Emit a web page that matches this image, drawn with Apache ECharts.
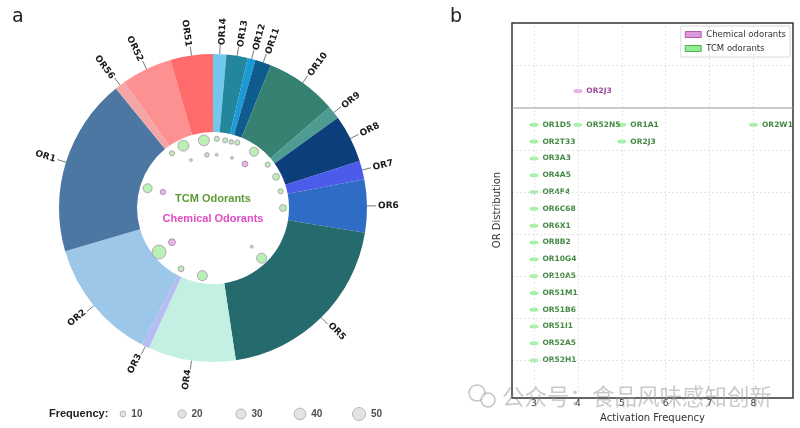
<!DOCTYPE html>
<html>
<head>
<meta charset="utf-8">
<script src="https://cdn.jsdelivr.net/npm/echarts@6/dist/echarts.min.js"></script>
<style>
html, body { margin: 0; padding: 0; background: #fff; }
#main { width: 800px; height: 428px; }
</style>
</head>
<body>
<div id="main"></div>
<script>
// panel a: ring slices, clockwise from 12 o'clock
const orNames = ['OR14', 'OR13', 'OR12', 'OR11', 'OR10', 'OR9', 'OR8', 'OR7', 'OR6', 'OR5', 'OR4', 'OR3', 'OR2', 'OR1', 'OR56', 'OR52', 'OR51'];
const orCounts = [5, 8, 3, 6, 27, 5, 18, 7, 20, 72, 33, 3, 46, 67, 4, 19, 16];
const orColors = ['#73c6ec', '#24869c', '#1b9ad6', '#0e5c8e', '#378173', '#4d9b91', '#0d3e7c', '#4b5ceb', '#2e6cc6',
	'#256b6d', '#c3f0e3', '#b5bdf2', '#9cc7e8', '#4c77a3', '#f4a6a6', '#fd9090', '#ff6b6b'];

// bubbles inside the ring: [x, y, frequency], ring centre = 0, inner radius = 1
const tcmBubbles = [
	[-0.39, 0.82, 29], [-0.12, 0.89, 29], [0.05, 0.91, 5], [0.16, 0.89, 5], [0.24, 0.87, 3],
	[0.32, 0.86, 5], [-0.54, 0.72, 5], [-0.29, 0.63, 1], [-0.08, 0.70, 3], [0.05, 0.70, 1],
	[0.25, 0.66, 1], [0.54, 0.74, 19], [0.72, 0.57, 5], [0.83, 0.41, 10], [-0.86, 0.26, 19],
	[0.89, 0.22, 5], [0.92, 0.0, 10], [-0.71, -0.58, 49], [0.51, -0.51, 1], [0.64, -0.66, 24],
	[-0.42, -0.80, 7], [-0.14, -0.89, 24]
];
const chemBubbles = [[0.42, 0.58, 7], [-0.66, 0.21, 6], [-0.54, -0.45, 10]];
const freqLegend = ['10', '20', '30', '40', '50'];

// panel b
const tcmRows = ['OR1D5', 'OR2T33', 'OR3A3', 'OR4A5', 'OR4F4', 'OR6C68', 'OR6X1', 'OR8B2', 'OR10G4',
	'OR10A5', 'OR51M1', 'OR51B6', 'OR51I1', 'OR52A5', 'OR52H1'];
const tcmRowFreq = [3, 3, 3, 3, 3, 3, 3, 3, 3, 3, 3, 3, 3, 3, 3];
// extra receptors sharing a row: [frequency, row index, name]
const tcmExtra = [[4, 0, 'OR52N5'], [5, 0, 'OR1A1'], [8, 0, 'OR2W1'], [5, 1, 'OR2J3']];
const chemPoints = [[4, 0, 'OR2J3']];
const xTicks = [3, 4, 5, 6, 7, 8];
const rowGrid = [0, 2.5, 5, 7.5, 10, 12.5];

const bubbleSize = f => 1.85 * Math.sqrt(f);

let myChart = echarts.init(document.getElementById('main'));

const nRows = tcmRows.length;
let tcmData = tcmRows.map((n, i) => [tcmRowFreq[i], nRows - 1 - i, n]);
tcmExtra.forEach(e => tcmData.push([e[0], nRows - 1 - e[1], e[2]]));

const gridLine = { type: [2, 2], color: '#dedede', width: 0.8 };

let option = {
	animation: false,
	backgroundColor: '#fff',
	textStyle: { fontFamily: 'DejaVu Sans' },
	title: [
		{ text: 'a', left: 7, top: 3, textStyle: { fontSize: 19, fontWeight: 'normal', color: '#222' } },
		{ text: 'b', left: 445, top: 3, textStyle: { fontSize: 19, fontWeight: 'normal', color: '#222' } }
	],
	legend: {
		right: 10, top: 26, orient: 'vertical', icon: 'rect',
		itemWidth: 16, itemHeight: 6, itemGap: 5,
		backgroundColor: '#fff', borderColor: '#d0d0d0', borderWidth: 0.8, padding: [4, 4],
		textStyle: { fontSize: 8.5, color: '#333' },
		data: [
			{ name: 'Chemical odorants', itemStyle: { color: '#dd99dd', borderColor: '#a040a0', borderWidth: 0.8, opacity: 1 } },
			{ name: 'TCM odorants', itemStyle: { color: '#90ee90', borderColor: '#3a9a3a', borderWidth: 0.8, opacity: 1 } }
		]
	},
	grid: [
		{ left: 137, top: 132, width: 152, height: 152 },
		{ left: 93.5, top: 404, width: 295, height: 20 },
		{ left: 512, top: 23, width: 281, height: 85 },
		{ left: 512, top: 108, width: 281, height: 290 }
	],
	xAxis: [
		{ gridIndex: 0, type: 'value', min: -1, max: 1, show: false },
		{ gridIndex: 1, type: 'category', data: freqLegend, show: false },
		{ gridIndex: 2, type: 'value', min: 2.5, max: 8.9, show: false },
		{
			gridIndex: 3, type: 'value', min: 2.5, max: 8.9, interval: 0.5,
			axisLine: { show: false }, axisTick: { show: false }, splitLine: { show: false },
			axisLabel: {
				fontSize: 9, color: '#333', margin: 7,
				formatter: v => (xTicks.indexOf(v) >= 0 ? String(v) : '')
			},
			name: 'Activation Frequency', nameLocation: 'middle', nameGap: 18,
			nameTextStyle: { fontSize: 10, color: '#333' }
		}
	],
	yAxis: [
		{ gridIndex: 0, type: 'value', min: -1, max: 1, show: false },
		{ gridIndex: 1, type: 'value', min: 0, max: 1, show: false },
		{ gridIndex: 2, type: 'value', min: -0.65, max: 2.6, show: false },
		{ gridIndex: 3, type: 'value', min: -1.9, max: 15, show: false }
	],
	graphic: [
		{ type: 'rect', shape: { x: 512, y: 23, width: 281, height: 375 }, style: { fill: null, stroke: '#333', lineWidth: 1.5 }, z: 10 },
		{ type: 'line', shape: { x1: 512, y1: 108, x2: 793, y2: 108 }, style: { stroke: '#999', lineWidth: 1 }, z: 10 },
		{ type: 'text', x: 497, y: 210, rotation: Math.PI / 2, style: { text: 'OR Distribution', fontSize: 10, fill: '#333', align: 'center', verticalAlign: 'middle', fontFamily: 'DejaVu Sans' } },
		{ type: 'text', x: 213, y: 199, style: { text: 'TCM Odorants', fontSize: 11, fontWeight: 'bold', fill: '#5b9a32', align: 'center', verticalAlign: 'middle', fontFamily: 'Liberation Sans' }, z: 20 },
		{ type: 'text', x: 213, y: 219, style: { text: 'Chemical Odorants', fontSize: 11, fontWeight: 'bold', fill: '#e04cc4', align: 'center', verticalAlign: 'middle', fontFamily: 'Liberation Sans' }, z: 20 },
		{ type: 'text', x: 49, y: 414, style: { text: 'Frequency:', fontSize: 11, fontWeight: 'bold', fill: '#222', verticalAlign: 'middle', fontFamily: 'Liberation Sans' } },
		// watermark
		{ type: 'circle', shape: { cx: 477, cy: 393, r: 8 }, style: { fill: null, stroke: 'rgba(150,150,150,0.55)', lineWidth: 1.5 }, z: 30 },
		{ type: 'circle', shape: { cx: 488, cy: 400, r: 7 }, style: { fill: 'rgba(255,255,255,0.6)', stroke: 'rgba(150,150,150,0.55)', lineWidth: 1.5 }, z: 30 },
		{ type: 'text', x: 502, y: 396, style: { text: '公众号：食品风味感知创新', fontSize: 22.5, fill: 'rgba(150,150,150,0.5)', verticalAlign: 'middle', fontFamily: 'Noto Sans CJK SC' }, z: 30 }
	],
	series: [
		{
			type: 'pie',
			center: [213, 208],
			radius: [76, 154],
			startAngle: 90,
			clockwise: true,
			avoidLabelOverlap: false,
			data: orNames.map((n, i) => ({ name: n, value: orCounts[i], itemStyle: { color: orColors[i] } })),
			label: {
				show: true, position: 'outside', rotate: 'radial',
				fontSize: 9, fontWeight: 'bold', color: '#1a1a1a', distanceToLabelLine: 2
			},
			labelLine: { show: true, length: 9, length2: 0, smooth: false, lineStyle: { color: '#555', width: 0.8 } },
			emphasis: { disabled: true }
		},
		{
			name: 'tcmBubble', type: 'scatter', xAxisIndex: 0, yAxisIndex: 0,
			data: tcmBubbles,
			symbolSize: d => bubbleSize(d[2]) + 1,
			itemStyle: { color: '#a8eca0', borderColor: '#b08fb0', borderWidth: 1 },
			z: 5, silent: true
		},
		{
			name: 'chemBubble', type: 'scatter', xAxisIndex: 0, yAxisIndex: 0,
			data: chemBubbles,
			symbolSize: d => bubbleSize(d[2]) + 1,
			itemStyle: { color: '#e0a4e0', borderColor: '#a088a0', borderWidth: 1 },
			z: 5, silent: true
		},
		{
			name: 'freqLegend', type: 'scatter', xAxisIndex: 1, yAxisIndex: 1,
			data: freqLegend.map(f => [f, 0.5]),
			symbolSize: d => bubbleSize(+d[0]),
			itemStyle: { color: '#dcdcdc', borderColor: '#9a9a9a', borderWidth: 0.8 },
			label: {
				show: true, position: 'right', distance: 5,
				formatter: p => p.data[0], fontSize: 10, fontWeight: 'bold', color: '#222', fontFamily: 'Liberation Sans'
			},
			silent: true
		},
		{
			name: 'gridTop', type: 'line', xAxisIndex: 2, yAxisIndex: 2, data: [], silent: true,
			markLine: {
				silent: true, symbol: 'none', label: { show: false }, lineStyle: gridLine, animation: false,
				data: xTicks.map(v => ({ xAxis: v })).concat([{ yAxis: 1 }])
			}
		},
		{
			name: 'gridBottom', type: 'line', xAxisIndex: 3, yAxisIndex: 3, data: [], silent: true,
			markLine: {
				silent: true, symbol: 'none', label: { show: false }, lineStyle: gridLine, animation: false,
				data: xTicks.map(v => ({ xAxis: v })).concat(rowGrid.map(v => ({ yAxis: v })))
			}
		},
		{
			name: 'Chemical odorants', type: 'scatter', xAxisIndex: 2, yAxisIndex: 2,
			data: chemPoints,
			symbol: 'circle', symbolSize: [9, 4],
			itemStyle: { color: '#dd99dd', opacity: 0.8 },
			label: {
				show: true, position: 'right', distance: 4, formatter: p => p.data[2],
				fontSize: 7.5, fontWeight: 'bold', color: '#801a80'
			}
		},
		{
			name: 'TCM odorants', type: 'scatter', xAxisIndex: 3, yAxisIndex: 3,
			data: tcmData,
			symbol: 'circle', symbolSize: [9, 4],
			itemStyle: { color: '#90ee90', opacity: 0.8 },
			label: {
				show: true, position: 'right', distance: 4, formatter: p => p.data[2],
				fontSize: 7.5, fontWeight: 'bold', color: '#146a14'
			}
		}
	]
};
myChart.setOption(option);
</script>
</body>
</html>
